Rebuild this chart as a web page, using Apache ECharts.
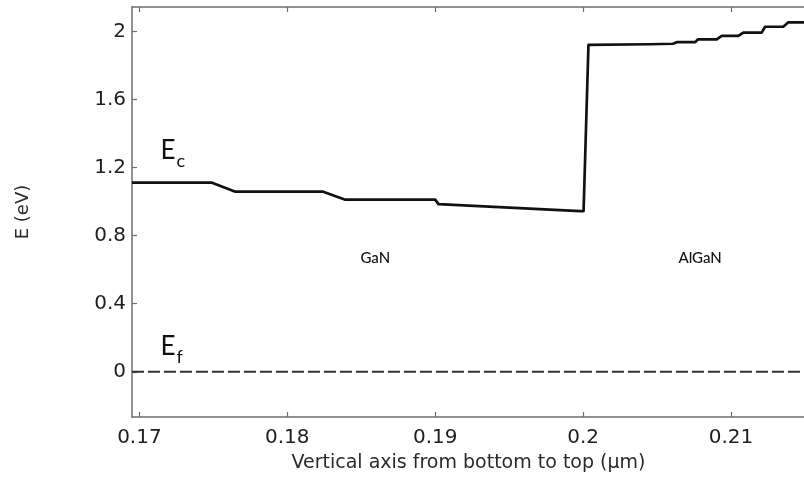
<!DOCTYPE html>
<html>
<head>
<meta charset="utf-8">
<script src="https://cdn.jsdelivr.net/npm/echarts@6/dist/echarts.min.js"></script>
<style>
  html, body { margin: 0; padding: 0; background: #fff; }
  #chart { width: 804px; height: 477px; }
</style>
</head>
<body>
<div id="chart"></div>
<script>
// Conduction band edge Ec (eV) along the growth direction (µm)
const positionUm = [
  0.1695, 0.17491, 0.17649, 0.18243, 0.18392, 0.19, 0.19022, 0.1998, 0.20003,
  0.20036, 0.20453, 0.20464, 0.20608, 0.20633, 0.20757, 0.20777, 0.20903,
  0.20937, 0.21049, 0.21083, 0.21207, 0.2123, 0.21353, 0.21387, 0.215
];
const conductionEv = [
  1.112, 1.112, 1.059, 1.059, 1.012, 1.012, 0.986, 0.945, 0.945,
  1.922, 1.926, 1.929, 1.929, 1.938, 1.938, 1.955, 1.955,
  1.975, 1.975, 1.994, 1.994, 2.029, 2.029, 2.055, 2.055
];
// Fermi level reference
const fermiEv = 0;

// Axis ranges and ticks
const xRange = [0.1695, 0.215];
const yRange = [-0.266, 2.145];
const xTicks = [0.17, 0.18, 0.19, 0.2, 0.21];
const xTickLabels = ['0.17', '0.18', '0.19', '0.2', '0.21'];
const yTicks = [0, 0.4, 0.8, 1.2, 1.6, 2];
const yTickLabels = ['0', '0.4', '0.8', '1.2', '1.6', '2'];

// Annotations
const layerNames = ['GaN', 'AlGaN'];
const layerNamePos = [[0.18595, 0.669], [0.20791, 0.669]];
const levelNames = [['E', 'c'], ['E', 'f']];
const levelNamePos = [[0.17142, 1.364], [0.17142, 0.21]];

const axisColor = '#6e6e6e';
const textColor = '#1e1e1e';

function tickText(values, labels) {
  return v => {
    let best = 0;
    values.forEach((t, i) => { if (Math.abs(t - v) < Math.abs(values[best] - v)) best = i; });
    return labels[best];
  };
}

const chart = echarts.init(document.getElementById('chart'), null, { renderer: 'canvas' });

const baseX = {
  type: 'value',
  min: xRange[0],
  max: xRange[1],
  splitLine: { show: false },
  axisLine: { show: true, onZero: false, lineStyle: { color: axisColor, width: 1.5 } },
  axisTick: { show: true, inside: true, length: 5, customValues: xTicks,
              lineStyle: { color: axisColor, width: 1.2 } }
};

const option = {
  animation: false,
  backgroundColor: '#ffffff',
  grid: { left: 132, right: -1, top: 7, bottom: 60, containLabel: false, outerBoundsMode: 'none' },
  xAxis: [
    Object.assign({}, baseX, {
      position: 'bottom',
      name: 'Vertical axis from bottom to top (µm)',
      nameLocation: 'middle',
      nameGap: 37,
      nameTextStyle: { fontFamily: 'DejaVu Sans', fontSize: 19, color: '#2a2a2a' },
      axisLabel: { customValues: xTicks, formatter: tickText(xTicks, xTickLabels),
                   fontFamily: 'DejaVu Sans', fontSize: 20, color: textColor, margin: 11 }
    }),
    Object.assign({}, baseX, {
      position: 'top',
      axisLabel: { show: false }
    })
  ],
  yAxis: {
    type: 'value',
    min: yRange[0],
    max: yRange[1],
    name: 'E (eV)',
    nameLocation: 'middle',
    nameGap: 100,
    nameRotate: 90,
    nameTextStyle: { fontFamily: 'DejaVu Sans', fontSize: 18, color: '#2a2a2a' },
    splitLine: { show: false },
    axisLine: { show: true, onZero: false, lineStyle: { color: axisColor, width: 1.5 } },
    axisTick: { show: true, inside: true, length: 5, customValues: yTicks,
                lineStyle: { color: axisColor, width: 1.2 } },
    axisLabel: { customValues: yTicks, formatter: tickText(yTicks, yTickLabels),
                 fontFamily: 'DejaVu Sans', fontSize: 20, color: textColor, margin: 6 }
  },
  series: [
    {
      name: 'Ef',
      type: 'line',
      xAxisIndex: 0,
      data: xRange.map(x => [x, fermiEv]),
      showSymbol: false,
      symbol: 'none',
      silent: true,
      lineStyle: { color: '#333', width: 2, type: [12, 4] },
      z: 2
    },
    {
      name: 'Ec',
      type: 'line',
      xAxisIndex: 0,
      data: positionUm.map((x, i) => [x, conductionEv[i]]),
      showSymbol: false,
      symbol: 'none',
      lineStyle: { color: '#111', width: 2.7, join: 'round' },
      z: 3,
      markPoint: {
        silent: true,
        symbol: 'circle',
        symbolSize: 0,
        data: [
          ...layerNames.map((t, i) => ({
            coord: layerNamePos[i],
            label: { show: true, position: 'inside', formatter: t,
                     fontFamily: 'Lato', fontSize: 15, fontWeight: 500, color: '#111' }
          })),
          ...levelNames.map((t, i) => ({
            coord: levelNamePos[i],
            label: {
              show: true, position: [0, 0], align: 'left', verticalAlign: 'top',
              formatter: '{a|' + t[0] + '}{b|' + t[1] + '}',
              rich: {
                a: { fontFamily: 'Lato', fontSize: 26, lineHeight: 30, verticalAlign: 'bottom',
                     padding: [0, 1, 6, 0], color: '#111' },
                b: { fontFamily: 'Lato', fontSize: 18, lineHeight: 22, verticalAlign: 'bottom',
                     color: '#111' }
              }
            }
          }))
        ]
      }
    }
  ]
};

chart.setOption(option);
</script>
</body>
</html>
